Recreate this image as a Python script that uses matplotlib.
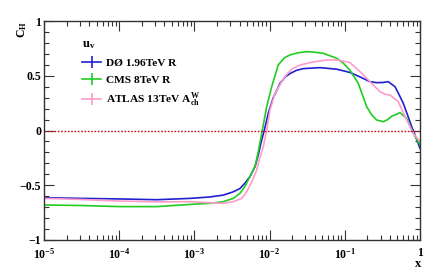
import numpy as np
import matplotlib
matplotlib.use("Agg")
import matplotlib.pyplot as plt
from matplotlib.lines import Line2D
from matplotlib.ticker import LogLocator, MultipleLocator, FixedLocator, FixedFormatter

plt.rcParams['font.family'] = ['Liberation Serif', 'DejaVu Serif']
plt.rcParams['font.weight'] = 'bold'
plt.rcParams['mathtext.fontset'] = 'custom'
plt.rcParams['mathtext.rm'] = 'Liberation Serif:bold'
plt.rcParams['mathtext.it'] = 'Liberation Serif:italic:bold'
plt.rcParams['mathtext.bf'] = 'Liberation Serif:bold'

# log10(x) positions and C_H values
d0_logx = [-5, -4.5, -4, -3.5, -3.059, -2.793, -2.616, -2.483, -2.394, -2.327, -2.261, -2.194,
           -2.150, -2.105, -2.071, -2.017, -1.951, -1.862, -1.79, -1.729, -1.64, -1.552, -1.33,
           -1.108, -0.931, -0.80, -0.665, -0.576, -0.50, -0.422, -0.332, -0.28, -0.222, -0.165,
           -0.110, -0.05, 0.0]
d0_val = [-0.614, -0.62, -0.625, -0.632, -0.62, -0.607, -0.59, -0.56, -0.53, -0.48, -0.42, -0.33,
          -0.22, -0.087, 0.0, 0.16, 0.30, 0.43, 0.49, 0.52, 0.55, 0.565, 0.574,
          0.56, 0.53, 0.49, 0.446, 0.437, 0.438, 0.446, 0.40, 0.33, 0.248, 0.14,
          0.035, -0.07, -0.163]

cms_logx = [-5, -4.5, -4, -3.5, -3.059, -2.793, -2.616, -2.483, -2.394, -2.327, -2.261, -2.194,
            -2.150, -2.105, -2.039, -1.972, -1.884, -1.80, -1.729, -1.62, -1.507, -1.40, -1.287,
            -1.108, -1.02, -0.931, -0.82, -0.709, -0.64, -0.576, -0.488, -0.43, -0.376, -0.266,
            -0.177, -0.089, 0.0]
cms_val = [-0.68, -0.685, -0.695, -0.695, -0.675, -0.665, -0.65, -0.62, -0.574, -0.51, -0.42, -0.33,
           -0.19, -0.026, 0.217, 0.40, 0.60, 0.665, 0.69, 0.71, 0.72, 0.715, 0.705,
           0.66, 0.615, 0.55, 0.43, 0.217, 0.14, 0.096, 0.08, 0.10, 0.13, 0.163,
           0.11, -0.026, -0.13]

atlas_logx = [-5, -4.5, -4, -3.5, -3.059, -2.793, -2.616, -2.483, -2.371, -2.305, -2.238, -2.172,
              -2.130, -2.084, -2.039, -1.995, -1.928, -1.818, -1.75, -1.685, -1.58, -1.463,
              -1.35, -1.241, -1.15, -1.064, -0.931, -0.798, -0.665, -0.532, -0.46, -0.399,
              -0.289, -0.177, -0.089, 0.0]
atlas_val = [-0.62, -0.63, -0.644, -0.652, -0.65, -0.66, -0.665, -0.65, -0.62, -0.56, -0.47, -0.36,
             -0.25, -0.148, 0.0, 0.187, 0.34, 0.47, 0.53, 0.57, 0.60, 0.62,
             0.633, 0.644, 0.645, 0.64, 0.62, 0.537, 0.446, 0.354, 0.33, 0.324,
             0.263, 0.096, -0.026, -0.10]

labels = ["D\u00d8 1.96TeV R", "CMS 8TeV R", r"ATLAS 13TeV $\mathrm{A_{ch}^{W}}$"]
colors = ["#2020d0", "#22cc22", "#ff9acd"]

fig = plt.figure(figsize=(4.43, 2.69), dpi=100)
ax = fig.add_axes([44/443, 29/269, 376/443, 219/269])

for lx, v, c in zip([d0_logx, cms_logx, atlas_logx], [d0_val, cms_val, atlas_val], colors):
    ax.plot(10**np.array(lx), v, color=c, lw=1.2, solid_joinstyle='round')

ax.axhline(0, color="#cc1111", lw=1.0, ls=(0, (1.2, 1.2)))

ax.set_xscale('log')
ax.set_xlim(1e-5, 1)
ax.set_ylim(-1, 1)

ax.xaxis.set_minor_locator(LogLocator(base=10, subs=np.arange(2, 10), numticks=20))
ax.xaxis.set_major_locator(FixedLocator([1e-5, 1e-4, 1e-3, 1e-2, 1e-1, 1]))
ax.xaxis.set_major_formatter(FixedFormatter([r'$10^{-5}$', r'$10^{-4}$', r'$10^{-3}$',
                                             r'$10^{-2}$', r'$10^{-1}$', '1']))
ax.yaxis.set_minor_locator(MultipleLocator(0.1))
ax.set_yticks([-1, -0.5, 0, 0.5, 1])
ax.set_yticklabels(['\u22121', '\u22120.5', '0', '0.5', '1'])

ax.tick_params(which='both', direction='in', top=True, right=True, labelsize=8.5, width=0.8,
               colors='#333333', labelcolor='black')
ax.tick_params(which='major', length=7)
ax.tick_params(which='minor', length=3.5)
ax.tick_params(axis='x', which='major', pad=5)
ax.tick_params(axis='y', which='major', pad=2)
for s in ax.spines.values():
    s.set_linewidth(1.0)
    s.set_color('#333333')

fig.text(22/443, 1 - 21/269, r'$\mathrm{C_H}$', rotation=90, ha='center', va='top', fontsize=8.5)
fig.text(418/443, 1 - 264/269, 'x', ha='center', va='center', fontsize=9)

handles = [Line2D([0], [0], color=c, lw=1.2, marker='|', markersize=9, markeredgewidth=1.2) for c in colors]
leg = ax.legend(handles, labels, loc='upper left', bbox_to_anchor=(0.08, 0.96),
                title=r'$\mathrm{u_v}$', title_fontsize=9, fontsize=8.2, frameon=False,
                handlelength=1.7, handletextpad=0.4, labelspacing=0.62, borderpad=0.2)
leg._legend_box.align = 'left'

fig.savefig('out.png', dpi=100)
